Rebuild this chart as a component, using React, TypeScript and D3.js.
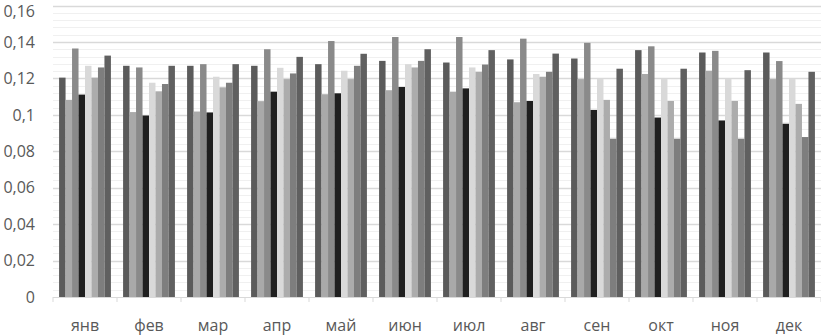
import React, { useRef, useEffect } from 'react';
import * as d3 from 'd3';

const months = ['янв', 'фев', 'мар', 'апр', 'май', 'июн', 'июл', 'авг', 'сен', 'окт', 'ноя', 'дек'];

// one array per series, values per month
const s1 = [0.1204, 0.1269, 0.1269, 0.1269, 0.1278, 0.1296, 0.1287, 0.1304, 0.1309, 0.1355, 0.1342, 0.1342];
const s2 = [0.1082, 0.1015, 0.1018, 0.1075, 0.1113, 0.1135, 0.1127, 0.1069, 0.1196, 0.1224, 0.1242, 0.1196];
const s3 = [0.1364, 0.126, 0.1278, 0.136, 0.1405, 0.1427, 0.1427, 0.1418, 0.1395, 0.1376, 0.1351, 0.1295];
const s4 = [0.1111, 0.0996, 0.1013, 0.1127, 0.1118, 0.1153, 0.1145, 0.1076, 0.1027, 0.0985, 0.0969, 0.0951];
const s5 = [0.1269, 0.1176, 0.1209, 0.1258, 0.1242, 0.1278, 0.126, 0.1224, 0.1196, 0.1196, 0.1196, 0.1196];
const s6 = [0.1204, 0.1129, 0.1151, 0.1196, 0.1196, 0.126, 0.1236, 0.1209, 0.1082, 0.1076, 0.1076, 0.106];
const s7 = [0.126, 0.1169, 0.1176, 0.1227, 0.1269, 0.1296, 0.1276, 0.1236, 0.0869, 0.0869, 0.0869, 0.0878];
const s8 = [0.1325, 0.1269, 0.1278, 0.1318, 0.1335, 0.136, 0.1355, 0.1336, 0.1253, 0.1253, 0.1245, 0.1236];

const series = [s1, s2, s3, s4, s5, s6, s7, s8];
const colors = ['#5b5b5b', '#a9a9a9', '#8a8a8a', '#1f1f1f', '#d9d9d9', '#acacac', '#7e7e7e', '#606060'];

const yTicks = [0, 0.02, 0.04, 0.06, 0.08, 0.1, 0.12, 0.14, 0.16];

const width = 821;
const height = 335;

const App = () => {
  const ref = useRef<SVGSVGElement>(null);

  useEffect(() => {
    const svg = d3.select(ref.current);
    svg.selectAll('*').remove();

    const left = 53, right = 821, top = 5.5, bottom = 297;
    const font = '"Open Sans", sans-serif';

    const y = d3.scaleLinear().domain([0, 0.16]).range([bottom, top]);
    const x = d3.scaleBand().domain(months).range([left, right]).paddingInner(0.19).paddingOuter(0.095);
    const xInner = d3.scaleBand().domain(d3.range(series.length).map(String)).range([0, x.bandwidth()]);

    // minor gridlines
    const minor = d3.range(0, 0.1601, 0.004).filter(v => Math.abs((v / 0.02) - Math.round(v / 0.02)) > 1e-6);
    svg.append('g').selectAll('line').data(minor).join('line')
      .attr('x1', left).attr('x2', right)
      .attr('y1', d => Math.round(y(d)) + 0.5).attr('y2', d => Math.round(y(d)) + 0.5)
      .attr('stroke', '#f0f0f0').attr('stroke-width', 1);

    // major gridlines
    svg.append('g').selectAll('line').data(yTicks.slice(1)).join('line')
      .attr('x1', left).attr('x2', right)
      .attr('y1', d => Math.round(y(d)) + 0.5).attr('y2', d => Math.round(y(d)) + 0.5)
      .attr('stroke', '#d9d9d9').attr('stroke-width', 1.5);

    // bars
    months.forEach((m, i) => {
      series.forEach((s, j) => {
        svg.append('rect')
          .attr('x', (x(m) as number) + (xInner(String(j)) as number))
          .attr('y', y(s[i]))
          .attr('width', xInner.bandwidth())
          .attr('height', bottom - y(s[i]))
          .attr('fill', colors[j]);
      });
    });

    // x axis line and ticks
    svg.append('line')
      .attr('x1', left).attr('x2', right).attr('y1', bottom + 0.5).attr('y2', bottom + 0.5)
      .attr('stroke', '#d9d9d9');
    const step = (right - left) / months.length;
    svg.append('g').selectAll('line').data(d3.range(months.length + 1)).join('line')
      .attr('x1', d => left + d * step).attr('x2', d => left + d * step)
      .attr('y1', bottom).attr('y2', bottom + 5)
      .attr('stroke', '#d9d9d9');

    // y labels (top one nudged down so it stays inside the picture)
    svg.append('g').selectAll('text').data(yTicks).join('text')
      .attr('x', 35).attr('y', d => Math.max(y(d), 11.5))
      .attr('dy', '0.36em')
      .attr('text-anchor', 'end')
      .attr('font-family', font).attr('font-size', 16)
      .attr('fill', '#595959')
      .text(d => d3.format('.2~f')(d).replace('.', ','));

    // x labels
    svg.append('g').selectAll('text').data(months).join('text')
      .attr('x', d => (x(d) as number) + x.bandwidth() / 2)
      .attr('y', 331)
      .attr('text-anchor', 'middle')
      .attr('font-family', font).attr('font-size', 16)
      .attr('fill', '#595959')
      .text(d => d);
  }, []);

  return (
    <svg ref={ref} width={width} height={height}
      style={{ position: 'absolute', left: 0, top: 0, background: '#fff' }} />
  );
};

export default App;
